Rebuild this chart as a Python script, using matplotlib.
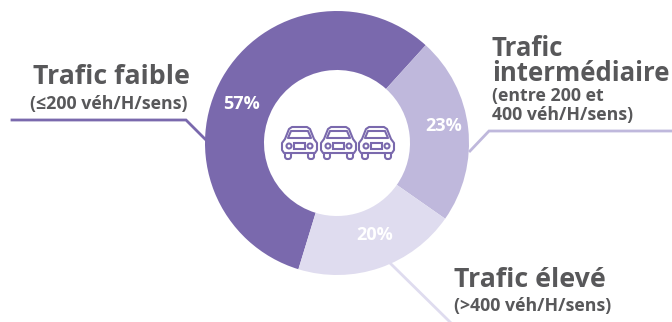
import numpy as np
import matplotlib
matplotlib.use('Agg')
import matplotlib.pyplot as plt
from matplotlib.patches import FancyBboxPatch, Circle, Rectangle, Polygon

plt.rcParams['font.family'] = ['Open Sans', 'DejaVu Sans']

shares = [57, 23, 20]
share_labels = ['57%', '23%', '20%']
colors = ['#7a69ad', '#bfb8dc', '#dfdcef']
text_grey = '#58585a'

W, H = 672, 322
fig = plt.figure(figsize=(W / 100, H / 100), dpi=100)
ax = fig.add_axes([0, 0, 1, 1])

cx, cy = 337, H - 143
outer = 132
inner = 73

ax.pie(shares, colors=colors, startangle=-107, counterclock=False, center=(cx, cy),
       radius=outer, wedgeprops=dict(width=outer - inner, linewidth=0), frame=True)
ax.set_xlim(0, W)
ax.set_ylim(0, H)
ax.set_aspect('equal')
ax.axis('off')


def y_(v):
    # positions below are measured from the top edge
    return H - np.asarray(v)


# percent labels on the ring
for txt, x, y in zip(share_labels, [241, 444, 375], [104, 126, 235]):
    ax.text(x, y_(y), txt, color='white', fontsize=13, fontweight='bold', ha='center', va='center')

# leader lines
ax.plot([12, 186, 206], y_([120, 120, 140]), color=colors[0], lw=2, solid_joinstyle='miter')
ax.plot([470, 489, 672], y_([151, 131, 131]), color=colors[1], lw=2, solid_joinstyle='miter')
ax.plot([391, 450], y_([264, 322]), color=colors[2], lw=2)

# category labels
big = 19.3
small = 12.8
ax.text(190, y_(77), 'Trafic faible', color=text_grey, fontsize=big, fontweight='bold', ha='right', va='center')
ax.text(187, y_(104), '(≤200 véh/H/sens)', color=text_grey, fontsize=small, fontweight='bold', ha='right', va='center')
ax.text(492, y_(61), 'Trafic\nintermédiaire', color=text_grey, fontsize=18.5, fontweight='bold', ha='left', va='center',
        linespacing=0.88)
ax.text(492, y_(105.5), '(entre 200 et\n400 véh/H/sens)', color=text_grey, fontsize=small, fontweight='bold', ha='left',
        va='center', linespacing=1.12)
ax.text(454, y_(280), 'Trafic élevé', color=text_grey, fontsize=big, fontweight='bold', ha='left', va='center')
ax.text(454, y_(306), '(>400 véh/H/sens)', color=text_grey, fontsize=small, fontweight='bold', ha='left', va='center')


def draw_car(x0):
    # outlined car seen from the front, x0 is its left edge
    lw = 1.5
    c = colors[0]
    # wheels
    for wx in [4, 27]:
        ax.add_patch(FancyBboxPatch((x0 + wx, y_(159)), 6, 9, boxstyle='round,pad=0,rounding_size=2.5',
                                    fill=False, ec=c, lw=lw, zorder=2))
    # body outline with cabin
    body = [(1, 143), (1, 150), (3, 153), (34, 153), (36, 150), (36, 143), (33, 139),
            (29, 129), (26, 127), (11, 127), (8, 129), (4, 139)]
    ax.add_patch(Polygon([(x0 + px, y_(py)) for px, py in body], closed=True, fc='white', ec=c, lw=lw,
                         joinstyle='round', zorder=3))
    # windscreen
    screen = [(7, 138), (30, 138), (27, 131), (10, 131)]
    ax.add_patch(Polygon([(x0 + px, y_(py)) for px, py in screen], closed=True, fill=False, ec=c, lw=lw,
                         joinstyle='round', zorder=4))
    # headlights and grille
    ax.add_patch(Circle((x0 + 8, y_(146)), 2.5, fill=False, ec=c, lw=lw, zorder=4))
    ax.add_patch(Circle((x0 + 29, y_(146)), 2.5, fill=False, ec=c, lw=lw, zorder=4))
    ax.add_patch(Rectangle((x0 + 13, y_(149)), 11, 6, fill=False, ec=c, lw=lw, zorder=4))


for x0 in [281, 320, 358]:
    draw_car(x0)

fig.savefig('out.png', dpi=100)
